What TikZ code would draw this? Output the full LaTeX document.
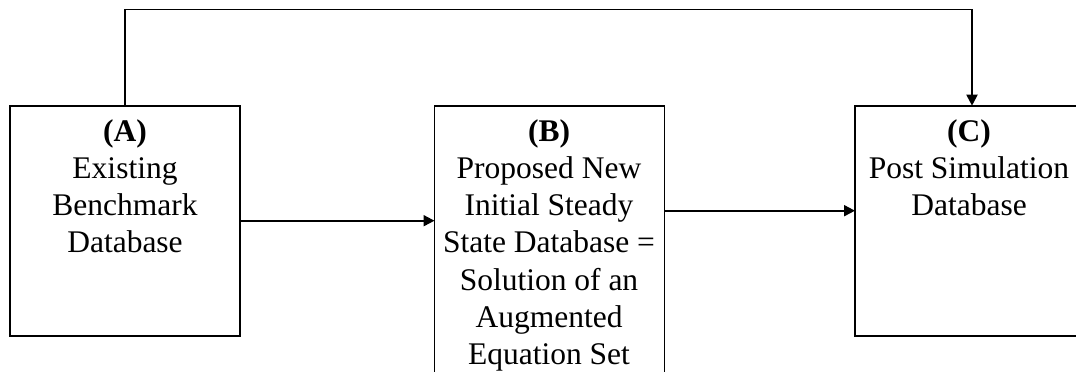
\documentclass[tikz,border=0pt]{standalone}
\usepackage{fontspec}
\setmainfont{Liberation Serif}
\usetikzlibrary{arrows.meta}
\tikzset{
  box/.style={draw, line width=1.9pt, minimum width=230pt, inner sep=0pt, outer sep=0pt, anchor=north west},
  conn/.style={line width=1.9pt, -{Triangle[length=11pt,width=11pt]}},
  lbl/.style={align=center, anchor=base, inner sep=0pt, font=\fontsize{31.5pt}{37.3pt}\selectfont}
}
\begin{document}
\begin{tikzpicture}[x=1pt,y=1pt]
\useasboundingbox (0,0) rectangle (1076,-372);
\clip (0,0) rectangle (1076,-372);
\node[box, minimum height=230pt] (A) at (10,-105.7) {};
\node[box, minimum height=300pt] (B) at (434.5,-105.7) {};
\node[box, minimum height=230pt, minimum width=234pt] (C) at (855,-105.7) {};
\node[lbl] (At) at (125,-252.9) {\textbf{(A)}\\Existing\\Benchmark\\Database};
\node[lbl] (Bt) at (549,-364.8) {\textbf{(B)}\\Proposed New\\Initial Steady\\State Database =\\Solution of an\\Augmented\\Equation Set};
\node[lbl] (Ct) at (969,-215.6) {\textbf{(C)}\\Post Simulation\\Database};
\coordinate (top) at (0,-9.5);
\coordinate (bc) at (0,-210.7);
\draw[conn] (A.east) -- (B.west |- A.east);
\draw[conn] (B.east |- bc) -- (C.west |- bc);
\draw[conn] (A.north) -- (A.north |- top) -| (C.north);
\end{tikzpicture}
\end{document}
